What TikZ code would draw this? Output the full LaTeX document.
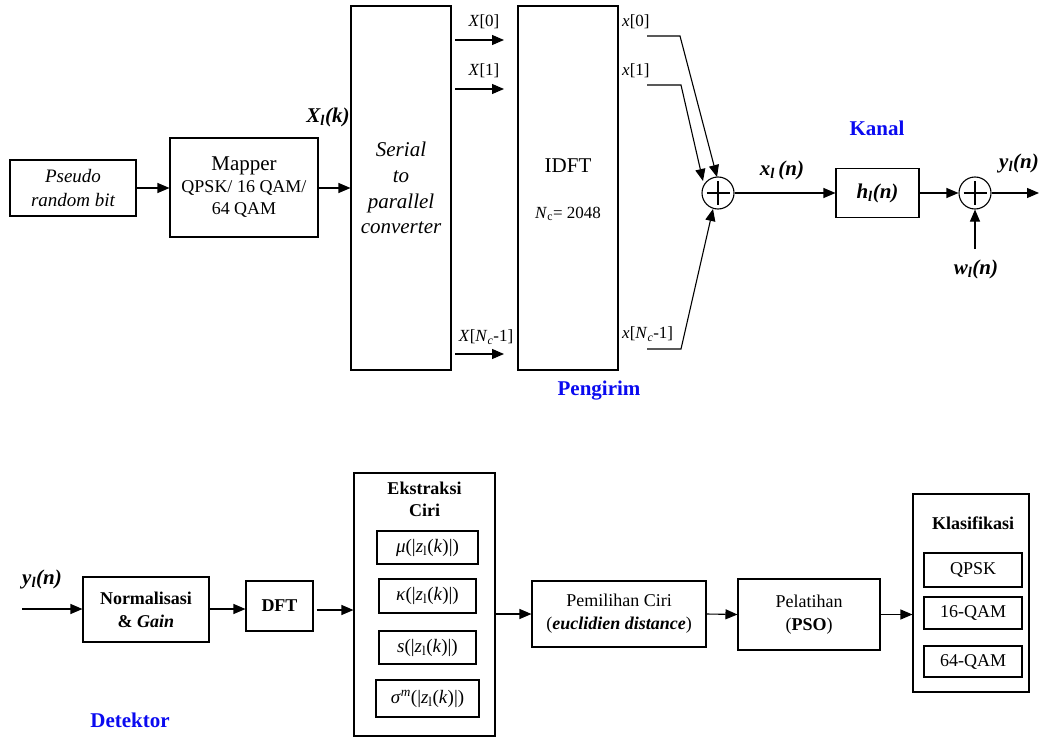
\documentclass[tikz,border=0pt]{standalone}
\usepackage{fontspec}
\setmainfont{Liberation Serif}
\usetikzlibrary{arrows.meta}
\definecolor{lblue}{RGB}{10,10,240}
\begin{document}
\begin{tikzpicture}[x=1pt,y=-1pt,
  box/.style={draw,line width=1.1pt,align=center,inner sep=0pt},
  arr/.style={-{Triangle[length=12pt,width=10pt]},line width=1.1pt},
  ln/.style={line width=1.1pt},
  sumnode/.style={draw,circle,line width=1.1pt,minimum size=32pt,inner sep=0pt},
  txt/.style={inner sep=0pt,align=center,font=\fontsize{18}{22}\selectfont},
  big/.style={inner sep=0pt,align=center,font=\fontsize{21}{25}\selectfont},
  ttl/.style={inner sep=0pt,text=lblue,font=\fontsize{21}{25}\selectfont\bfseries}]
\useasboundingbox (0,0) rectangle (1043,738);
% ---------------- Pengirim ----------------
\node[box,minimum width=126pt,minimum height=56pt,font=\fontsize{19}{24}\selectfont\itshape] (prb) at (73,188) {Pseudo\\random bit};
\node[box,minimum width=148pt,minimum height=99pt,font=\fontsize{18}{22}\selectfont] (map) at (244,187.5)
  {{\fontsize{21}{22}\selectfont Mapper}\\QPSK/ 16 QAM/\\64 QAM};
\node[box,minimum width=100pt,minimum height=364pt,font=\fontsize{21}{25.7}\selectfont\itshape] (sp) at (401,188) {Serial\\to\\parallel\\converter};
\node[box,minimum width=100pt,minimum height=364pt] (idft) at (568,188) {};
\node[big] (idftt) at (568,166) {IDFT};
\node[txt,font=\fontsize{17}{20}\selectfont] (nc) at (568,214) {\textit{N}\textsubscript{c}= 2048};
\node[big,font=\fontsize{21}{25}\selectfont\bfseries\itshape] (Xk) at (328,117) {X\textsubscript{l}(k)};
\draw[arr] (prb.east) -- (map.west |- prb.east);
\draw[arr] (map.east |- prb.east) -- (sp.west |- prb.east);
% X arrows
\coordinate (a0s) at (455,40);  \coordinate (a0e) at (504,40);
\coordinate (a1s) at (455,89);  \coordinate (a1e) at (504,89);
\coordinate (a2s) at (455,354); \coordinate (a2e) at (504,354);
\draw[arr] (a0s) -- (a0e);
\draw[arr] (a1s) -- (a1e);
\draw[arr] (a2s) -- (a2e);
\node[txt,font=\fontsize{17}{20}\selectfont] (X0) at (484,22) {\textit{X}[0]};
\node[txt,font=\fontsize{17}{20}\selectfont] (X1) at (484,71) {\textit{X}[1]};
\node[txt,font=\fontsize{17}{20}\selectfont] (X2) at (486,337) {\textit{X}[\textit{N}\textsubscript{\textit{c}}-1]};
% x outputs
\node[sumnode] (sum1) at (718,193) {};
\draw[ln] (sum1.center) ++(-11.5,0) -- ++(23,0);
\draw[ln] (sum1.center) ++(0,-11.5) -- ++(0,23);
\node[txt,font=\fontsize{17}{20}\selectfont,anchor=west] (x0) at (622,22) {\textit{x}[0]};
\node[txt,font=\fontsize{17}{20}\selectfont,anchor=west] (x1) at (622,71) {\textit{x}[1]};
\node[txt,font=\fontsize{17}{20}\selectfont,anchor=west] (x2) at (622,334) {\textit{x}[\textit{N}\textsubscript{\textit{c}}-1]};
\coordinate (b0) at (647,36); \coordinate (c0) at (680,36);
\coordinate (b1) at (647,85); \coordinate (c1) at (681,85);
\coordinate (b2) at (647,349); \coordinate (c2) at (681,349);
\draw[arr] (b0) -- (c0) -- (717,177);
\draw[arr] (b1) -- (c1) -- (703,181);
\draw[arr] (b2) -- (c2) -- (713,209);
% channel
\node[box,minimum width=83pt,minimum height=49pt,font=\fontsize{21}{25}\selectfont\bfseries\itshape] (h) at (877.5,193) {h\textsubscript{l}(n)};
\draw[arr] (sum1.east) -- (h.west);
\node[big,font=\fontsize{21}{25}\selectfont\bfseries\itshape] (xl) at (782,170) {x\textsubscript{l}\,(n)};
\node[ttl] (kanal) at (877,128) {Kanal};
\node[sumnode] (sum2) at (975,193) {};
\draw[ln] (sum2.center) ++(-11.5,0) -- ++(23,0);
\draw[ln] (sum2.center) ++(0,-11.5) -- ++(0,23);
\draw[arr] (h.east) -- (sum2.west);
\coordinate (yout) at (1039,193);
\draw[arr] (sum2.east) -- (yout);
\coordinate (win) at (975,249);
\draw[arr] (win) -- (sum2.south);
\node[big,font=\fontsize{21}{25}\selectfont\bfseries\itshape] (wl) at (976,269) {w\textsubscript{l}(n)};
\node[big,font=\fontsize{21}{25}\selectfont\bfseries\itshape] (yl) at (1019,163) {y\textsubscript{l}(n)};
\node[ttl] (peng) at (599,391) {Pengirim};
% ---------------- Detektor ----------------
\node[big,font=\fontsize{21}{25}\selectfont\bfseries\itshape] (yin) at (42,579) {y\textsubscript{l}(n)};
\coordinate (yins) at (22,609);
\node[box,minimum width=126pt,minimum height=65pt,font=\fontsize{18}{23}\selectfont\bfseries] (norm) at (146,609.5) {Normalisasi\\\& \textit{Gain}};
\draw[arr] (yins) -- (yins -| norm.west);
\node[box,minimum width=67pt,minimum height=50pt,font=\fontsize{18}{22}\selectfont\bfseries] (dft) at (279.5,606) {DFT};
\draw[arr] (norm.east |- 0,609) -- (dft.west |- 0,609);
\node[box,minimum width=141pt,minimum height=263pt] (eks) at (424.5,604.5) {};
\draw[arr] (dft.east |- 0,610) ++(3,0) -- (eks.west |- 0,610);
\node[txt,font=\fontsize{18}{22}\selectfont\bfseries] (ekst) at (424.5,499) {Ekstraksi\\Ciri};
\node[box,minimum width=101pt,minimum height=33pt,font=\fontsize{19}{22}\selectfont] (mu) at (427.5,547.5) {\textit{μ}(|\textit{z}\textsubscript{l}(\textit{k})|)};
\node[box,minimum width=97pt,minimum height=34pt,font=\fontsize{19}{22}\selectfont] (ka) at (427.5,596) {\textit{κ}(|\textit{z}\textsubscript{l}(\textit{k})|)};
\node[box,minimum width=97pt,minimum height=33pt,font=\fontsize{19}{22}\selectfont] (sk) at (427.5,647.5) {\textit{s}(|\textit{z}\textsubscript{l}(\textit{k})|)};
\node[box,minimum width=103pt,minimum height=37pt,font=\fontsize{19}{22}\selectfont] (sg) at (427.5,698.5) {\textit{σ}\textsuperscript{\textit{m}}(|\textit{z}\textsubscript{l}(\textit{k})|)};
\node[box,minimum width=174pt,minimum height=66pt,font=\fontsize{18}{23}\selectfont] (pem) at (619,614) {Pemilihan Ciri\\(\textbf{\textit{euclidien distance}})};
\draw[arr] (eks.east |- pem.west) -- (pem.west);
\node[box,minimum width=142pt,minimum height=71pt,font=\fontsize{18}{23}\selectfont] (pel) at (809,614.5) {Pelatihan\\(\textbf{PSO})};
\draw[arr] (pem.east) -- (pel.west);
\node[box,minimum width=116pt,minimum height=198pt] (kla) at (971,593) {};
\draw[arr] (pel.east) -- (kla.west |- pel.east);
\node[txt,font=\fontsize{18}{22}\selectfont\bfseries] (klat) at (973,523) {Klasifikasi};
\node[box,minimum width=98pt,minimum height=34pt] (q1) at (973,570) {\fontsize{18}{22}\selectfont QPSK};
\node[box,minimum width=98pt,minimum height=32pt] (q2) at (973,613) {\fontsize{18}{22}\selectfont 16-QAM};
\node[box,minimum width=98pt,minimum height=31pt] (q3) at (973,661.5) {\fontsize{18}{22}\selectfont 64-QAM};
\node[ttl] (det) at (130,720) {Detektor};
\end{tikzpicture}
\end{document}
